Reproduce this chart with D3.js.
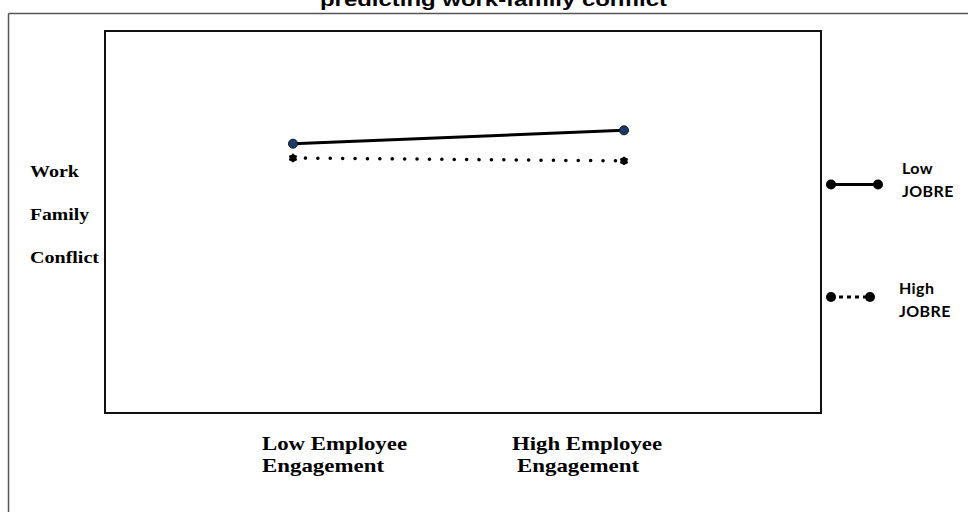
<!DOCTYPE html>
<html>
<head>
<meta charset="utf-8">
<script src="https://cdnjs.cloudflare.com/ajax/libs/d3/7.8.5/d3.min.js"></script>
<style>
  body { margin: 0; background: #fff; }
  svg { display: block; }
</style>
</head>
<body>
<svg id="chart" width="968" height="513"></svg>
<script>
// categories on the x axis (two lines each)
var categories = ["Low Employee\nEngagement", "High Employee\nEngagement"];
// series names
var seriesNames = ["Low JOBRE", "High JOBRE"];
// work-family conflict values (1-5 scale)
var lowJobre = [3.82, 3.96];
var highJobre = [3.67, 3.64];
var yLabel = ["Work", "Family", "Conflict"];
var title = "predicting work-family conflict";

var svg = d3.select("#chart");

var box = {left: 105, top: 31, right: 821, bottom: 413};

var x = d3.scalePoint()
    .domain(categories)
    .range([293, 624]);

var y = d3.scaleLinear()
    .domain([1, 5])
    .range([box.bottom, box.top]);

// outer frame (only top and left visible)
svg.append("line")
    .attr("x1", 8.5).attr("y1", 13.5).attr("x2", 968).attr("y2", 13.5)
    .attr("stroke", "#555").attr("stroke-width", 1.5);
svg.append("line")
    .attr("x1", 8.5).attr("y1", 13.5).attr("x2", 8.5).attr("y2", 512)
    .attr("stroke", "#555").attr("stroke-width", 1.5);

// title, cut off at top like the original
svg.append("text")
    .attr("x", 320)
    .attr("y", 6)
    .attr("textLength", 347)
    .attr("lengthAdjust", "spacingAndGlyphs")
    .style("font-family", "Liberation Sans, Arial, sans-serif")
    .style("font-weight", "bold")
    .style("font-size", "19px")
    .text(title);

// plot box
svg.append("rect")
    .attr("x", box.left)
    .attr("y", box.top)
    .attr("width", box.right - box.left)
    .attr("height", box.bottom - box.top)
    .attr("fill", "none")
    .attr("stroke", "#111")
    .attr("stroke-width", 2);

var line = d3.line()
    .x(function(d, i) { return x(categories[i]); })
    .y(function(d) { return y(d); });

// Low JOBRE: solid
svg.append("path")
    .datum(lowJobre)
    .attr("d", line)
    .attr("fill", "none")
    .attr("stroke", "#000")
    .attr("stroke-width", 3);

svg.selectAll(".lowpt")
    .data(lowJobre)
  .enter().append("circle")
    .attr("class", "lowpt")
    .attr("cx", function(d, i) { return x(categories[i]); })
    .attr("cy", function(d) { return y(d); })
    .attr("r", 4.5)
    .attr("fill", "#1b3a6b")
    .attr("stroke", "#111")
    .attr("stroke-width", 1);

// High JOBRE: dotted
svg.append("path")
    .datum(highJobre)
    .attr("d", line)
    .attr("fill", "none")
    .attr("stroke", "#000")
    .attr("stroke-width", 3.5)
    .attr("stroke-linecap", "round")
    .attr("stroke-dasharray", "0.1,12.3");

var hp = svg.selectAll(".highpt")
    .data(highJobre)
  .enter().append("g")
    .attr("class", "highpt")
    .attr("transform", function(d, i) { return "translate(" + x(categories[i]) + "," + y(d) + ")"; });
hp.append("circle").attr("r", 3.6).attr("fill", "#000");
hp.append("path")
    .attr("d", d3.symbol().type(d3.symbolAsterisk).size(50))
    .attr("stroke", "#000")
    .attr("stroke-width", 1.8);

// y label (three words), stretched like the original
var yLabelWidth = [49, 59, 69];
svg.selectAll(".ylab")
    .data(yLabel)
  .enter().append("text")
    .attr("class", "ylab")
    .attr("x", 30)
    .attr("y", function(d, i) { return 177 + i * 43; })
    .attr("textLength", function(d, i) { return yLabelWidth[i]; })
    .attr("lengthAdjust", "spacingAndGlyphs")
    .style("font-family", "Liberation Serif, Times New Roman, serif")
    .style("font-weight", "bold")
    .style("font-size", "17px")
    .text(function(d) { return d; });

// x category labels
var xoff = [[-31, -31], [-112, -107]];
var xw = [[145, 122], [150, 122]];
var xl = svg.selectAll(".xlab")
    .data(categories)
  .enter().append("text")
    .attr("class", "xlab")
    .style("font-family", "Liberation Serif, Times New Roman, serif")
    .style("font-weight", "bold")
    .style("font-size", "19px");
xl.each(function(d, i) {
  var parts = d.split("\n");
  var t = d3.select(this);
  parts.forEach(function(p, j) {
    t.append("tspan")
        .attr("x", x(d) + xoff[i][j])
        .attr("y", 450 + j * 22)
        .attr("textLength", xw[i][j])
        .attr("lengthAdjust", "spacingAndGlyphs")
        .text(p);
  });
});

// legend
var legend = [
  {name: seriesNames[0], y: 184.5, x2: 878, dash: null, text: ["Low", "JOBRE"], tx: 902, ty: 174},
  {name: seriesNames[1], y: 297, x2: 870, dash: "4,4", text: ["High", "JOBRE"], tx: 899, ty: 294}
];
var lg = svg.selectAll(".leg")
    .data(legend)
  .enter().append("g")
    .attr("class", "leg");
lg.append("line")
    .attr("x1", 831).attr("x2", function(d) { return d.x2; })
    .attr("y1", function(d) { return d.y; }).attr("y2", function(d) { return d.y; })
    .attr("stroke", "#000")
    .attr("stroke-width", 3)
    .attr("stroke-dasharray", function(d) { return d.dash; });
lg.append("circle")
    .attr("cx", 831).attr("cy", function(d) { return d.y; })
    .attr("r", 5).attr("fill", "#000");
lg.append("circle")
    .attr("cx", function(d) { return d.x2; }).attr("cy", function(d) { return d.y; })
    .attr("r", 5).attr("fill", "#000");
lg.append("text")
    .style("font-family", "Lato, Carlito, Calibri, sans-serif")
    .style("font-weight", "bold")
    .style("font-size", "16px")
    .style("letter-spacing", "0.4px")
    .each(function(d) {
      var t = d3.select(this);
      t.append("tspan").attr("x", d.tx).attr("y", d.ty).text(d.text[0]);
      t.append("tspan").attr("x", d.tx).attr("y", d.ty + 23).text(d.text[1]);
    });
</script>
</body>
</html>
